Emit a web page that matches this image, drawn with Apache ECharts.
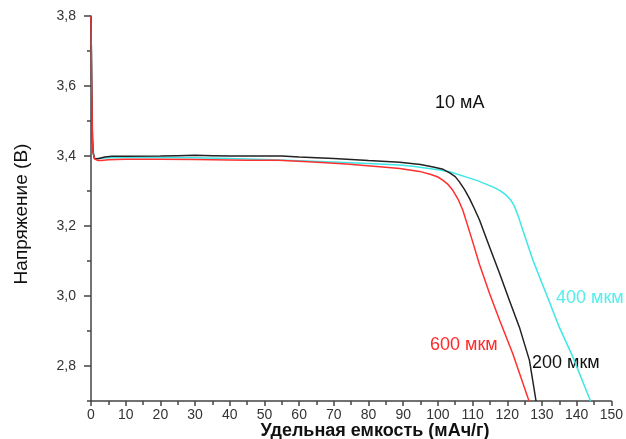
<!DOCTYPE html>
<html>
<head>
<meta charset="utf-8">
<script src="https://cdn.jsdelivr.net/npm/echarts@6/dist/echarts.min.js"></script>
<style>html,body{margin:0;padding:0;background:#fff}#c{width:626px;height:439px}</style>
</head>
<body>
<div id="c"></div>
<script>
// 200 мкм (black)
const blackX = [0, 0.2, 0.4, 0.6, 1.0, 1.5, 2, 4, 6, 10, 20, 25, 30, 35, 40, 50, 55, 60, 70, 80, 89, 95, 99, 101.5, 103.4, 105, 106.2, 107.7, 109.1, 110.5, 112, 114.9, 117.8, 120.6, 123.5, 126.4, 128.3];
const blackY = [3.80, 3.60, 3.45, 3.41, 3.393, 3.391, 3.392, 3.397, 3.399, 3.399, 3.400, 3.401, 3.402, 3.401, 3.400, 3.400, 3.400, 3.397, 3.393, 3.387, 3.382, 3.376, 3.368, 3.362, 3.352, 3.341, 3.326, 3.304, 3.279, 3.250, 3.217, 3.140, 3.064, 2.988, 2.911, 2.816, 2.70];
// 400 мкм (cyan)
const cyanX = [0, 0.2, 0.4, 0.7, 1.0, 2, 5, 10, 20, 30, 40, 50, 64, 78.3, 89, 92.7, 100.5, 103.4, 111, 116, 117.8, 119.7, 121, 122.1, 123.3, 124.5, 127.4, 131.2, 135, 138.9, 144];
const cyanY = [3.80, 3.65, 3.49, 3.41, 3.393, 3.393, 3.395, 3.396, 3.396, 3.395, 3.393, 3.390, 3.385, 3.379, 3.374, 3.371, 3.360, 3.355, 3.331, 3.311, 3.302, 3.288, 3.274, 3.256, 3.224, 3.188, 3.102, 3.007, 2.911, 2.826, 2.70];
// 600 мкм (red)
const redX = [0, 0.2, 0.4, 0.6, 1.0, 2, 3, 5, 10, 20, 30, 45, 54, 64, 73.6, 83.2, 89, 94.7, 98, 100, 101.4, 103, 104.3, 105.8, 107.2, 109.6, 112, 114.9, 117.8, 121.6, 125.9, 126.3];
const redY = [3.80, 3.60, 3.45, 3.41, 3.392, 3.387, 3.387, 3.389, 3.391, 3.391, 3.390, 3.388, 3.388, 3.383, 3.377, 3.369, 3.364, 3.356, 3.347, 3.340, 3.331, 3.318, 3.302, 3.277, 3.245, 3.169, 3.090, 3.007, 2.931, 2.835, 2.711, 2.70];

const yMajor = [2.8, 3.0, 3.2, 3.4, 3.6, 3.8];
const yMinor = [2.7, 2.9, 3.1, 3.3, 3.5, 3.7];

const zip = (xs, ys) => xs.map((x, i) => [x, ys[i]]);
const axisColor = '#444';
const labelFont = 'Arial, "Liberation Sans", sans-serif';

const chart = echarts.init(document.getElementById('c'), null, {renderer: 'canvas'});
const lineBase = {type: 'line', showSymbol: false, symbol: 'none', smooth: false};
chart.setOption({
  animation: false,
  backgroundColor: '#fff',
  grid: {left: 91, right: 14, top: 16, bottom: 38, containLabel: false},
  xAxis: {
    type: 'value', min: 0, max: 150, interval: 10,
    axisLine: {show: true, lineStyle: {color: axisColor, width: 1.5}},
    axisTick: {show: true, length: 5, lineStyle: {color: axisColor, width: 1.5}},
    minorTick: {show: true, splitNumber: 2, length: 4, lineStyle: {color: axisColor, width: 1.5}},
    splitLine: {show: false},
    axisLabel: {margin: 7, color: '#333', fontSize: 14, fontFamily: labelFont}
  },
  yAxis: [{
    type: 'value', min: 2.7, max: 3.8,
    axisLine: {show: true, lineStyle: {color: axisColor, width: 1.5}},
    axisTick: {show: true, length: 7, customValues: yMajor, lineStyle: {color: axisColor, width: 1.5}},
    splitLine: {show: false},
    axisLabel: {customValues: yMajor, margin: 15, color: '#333', fontSize: 14, fontFamily: labelFont,
      formatter: v => v.toFixed(1).replace('.', ',')}
  }, {
    type: 'value', min: 2.7, max: 3.8, position: 'left',
    axisLine: {show: false},
    axisTick: {show: true, length: 4, customValues: yMinor, lineStyle: {color: axisColor, width: 1.5}},
    splitLine: {show: false},
    axisLabel: {show: false}
  }],
  series: [
    Object.assign({}, lineBase, {data: zip(cyanX, cyanY), lineStyle: {color: '#3ee6e6', width: 1.5}, z: 2}),
    Object.assign({}, lineBase, {data: zip(blackX, blackY), lineStyle: {color: '#222', width: 1.5}, z: 3}),
    Object.assign({}, lineBase, {data: zip(redX, redY), lineStyle: {color: '#ff3030', width: 1.5}, z: 4})
  ],
  graphic: [
    {type: 'text', x: 22, y: 214, rotation: Math.PI / 2,
      style: {text: 'Напряжение (В)', fill: '#111', font: '19px Arial, "Liberation Sans", sans-serif', align: 'center', verticalAlign: 'middle'}},
    {type: 'text', x: 375, y: 431,
      style: {text: 'Удельная емкость (мАч/г)', fill: '#111', font: 'bold 18px Arial, "Liberation Sans", sans-serif', align: 'center', verticalAlign: 'middle'}},
    {type: 'text', x: 435, y: 103,
      style: {text: '10 мА', fill: '#111', font: '18px Arial, "Liberation Sans", sans-serif', align: 'left', verticalAlign: 'middle'}},
    {type: 'text', x: 556, y: 298,
      style: {text: '400 мкм', fill: '#55eeee', font: '18px Arial, "Liberation Sans", sans-serif', align: 'left', verticalAlign: 'middle'}},
    {type: 'text', x: 430, y: 345,
      style: {text: '600 мкм', fill: '#ff2a2a', font: '18px Arial, "Liberation Sans", sans-serif', align: 'left', verticalAlign: 'middle'}},
    {type: 'text', x: 532, y: 363,
      style: {text: '200 мкм', fill: '#111', font: '18px Arial, "Liberation Sans", sans-serif', align: 'left', verticalAlign: 'middle'}}
  ]
});
</script>
</body>
</html>
